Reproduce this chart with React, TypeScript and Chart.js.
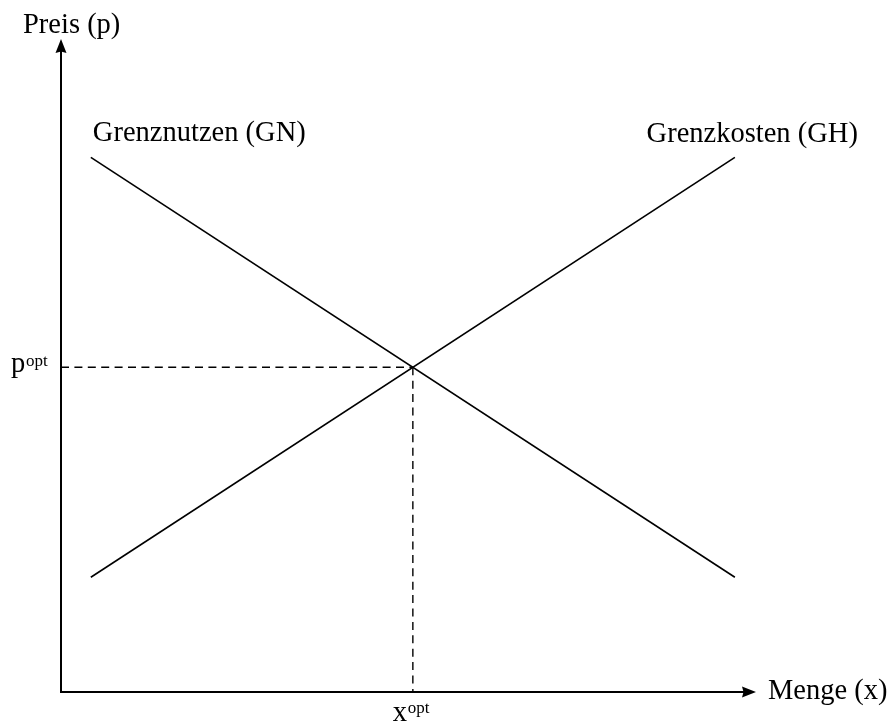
import React, { useEffect, useRef } from "react";
import { Chart, registerables } from "chart.js";

Chart.register(...registerables);

// Data (axis units 0..100 on both axes)
const gnX = [4.3, 97.1];
const gnY = [82.0, 17.6];
const ghX = [4.3, 97.1];
const ghY = [17.6, 82.0];
const optX = 50.7;
const optY = 49.8;
const axisMax = 100;

const labelGN = "Grenznutzen (GN)";
const labelGH = "Grenzkosten (GH)";
const labelY = "Preis (p)";
const labelX = "Menge (x)";

const FONT = "'Liberation Serif', 'Times New Roman', serif";

const overlayPlugin = {
  id: "overlay",
  afterDatasetsDraw(chart: any) {
    const ctx = chart.ctx as CanvasRenderingContext2D;
    const xs = chart.scales.x;
    const ys = chart.scales.y;
    const x0 = xs.getPixelForValue(0);
    const y0 = ys.getPixelForValue(0);
    const xEnd = xs.getPixelForValue(axisMax);
    const yEnd = ys.getPixelForValue(axisMax);
    ctx.save();
    ctx.strokeStyle = "#000";
    ctx.fillStyle = "#000";
    ctx.lineWidth = 2;
    ctx.lineCap = "butt";
    // y axis
    ctx.beginPath();
    ctx.moveTo(x0, y0 + 1);
    ctx.lineTo(x0, yEnd + 8);
    ctx.stroke();
    // x axis
    ctx.beginPath();
    ctx.moveTo(x0 - 1, y0);
    ctx.lineTo(xEnd - 8, y0);
    ctx.stroke();
    // arrowheads
    ctx.beginPath();
    ctx.moveTo(x0, yEnd - 1);
    ctx.lineTo(x0 - 5.5, yEnd + 13);
    ctx.lineTo(x0, yEnd + 11.5);
    ctx.lineTo(x0 + 5.5, yEnd + 13);
    ctx.closePath();
    ctx.fill();
    ctx.beginPath();
    ctx.moveTo(xEnd + 1, y0);
    ctx.lineTo(xEnd - 13, y0 - 5.5);
    ctx.lineTo(xEnd - 11.5, y0);
    ctx.lineTo(xEnd - 13, y0 + 5.5);
    ctx.closePath();
    ctx.fill();

    // labels
    ctx.textAlign = "left";
    ctx.textBaseline = "alphabetic";
    ctx.font = `28.5px ${FONT}`;
    ctx.fillText(labelY, x0 - 38, yEnd - 7);
    ctx.fillText(labelX, xEnd + 13, y0 + 7);
    const gnPx = xs.getPixelForValue(gnX[0]);
    const gnPy = ys.getPixelForValue(gnY[0]);
    ctx.fillText(labelGN, gnPx + 2, gnPy - 16);
    const ghPx = xs.getPixelForValue(ghX[1]);
    const ghPy = ys.getPixelForValue(ghY[1]);
    ctx.textAlign = "right";
    ctx.fillText(labelGH, ghPx + 123, ghPy - 15);
    ctx.textAlign = "left";

    // p^opt
    const oy = ys.getPixelForValue(optY);
    const ox = xs.getPixelForValue(optX);
    ctx.font = `28.5px ${FONT}`;
    ctx.fillText("p", x0 - 50, oy + 5);
    ctx.font = `17px ${FONT}`;
    ctx.fillText("opt", x0 - 35, oy - 1);
    // x^opt
    ctx.font = `28.5px ${FONT}`;
    ctx.fillText("x", ox - 20, y0 + 29);
    ctx.font = `17px ${FONT}`;
    ctx.fillText("opt", ox - 5, y0 + 21);
    ctx.restore();
  },
};

export default function App() {
  const ref = useRef<HTMLCanvasElement | null>(null);
  useEffect(() => {
    if (!ref.current) return;
    const chart = new Chart(ref.current, {
      type: "scatter",
      data: {
        datasets: [
          {
            label: labelGN,
            data: gnX.map((x, i) => ({ x, y: gnY[i] })),
            showLine: true,
            borderColor: "#000",
            borderWidth: 1.6,
            pointRadius: 0,
            clip: false,
          } as any,
          {
            label: labelGH,
            data: ghX.map((x, i) => ({ x, y: ghY[i] })),
            showLine: true,
            borderColor: "#000",
            borderWidth: 1.6,
            pointRadius: 0,
            clip: false,
          } as any,
          {
            label: "p opt",
            data: [
              { x: 0, y: optY },
              { x: optX, y: optY },
            ],
            showLine: true,
            borderColor: "#000",
            borderWidth: 1.4,
            borderDash: [8, 5.4],
            pointRadius: 0,
            clip: false,
          } as any,
          {
            label: "x opt",
            data: [
              { x: optX, y: optY },
              { x: optX, y: 0 },
            ],
            showLine: true,
            borderColor: "#000",
            borderWidth: 1.4,
            borderDash: [8, 5.4],
            pointRadius: 0,
            clip: false,
          } as any,
        ],
      },
      options: {
        animation: false,
        responsive: false,
        events: [],
        layout: { padding: { left: 61, right: 137, top: 40, bottom: 31 } },
        plugins: { legend: { display: false }, tooltip: { enabled: false } },
        scales: {
          x: { type: "linear", min: 0, max: axisMax, display: false },
          y: { type: "linear", min: 0, max: axisMax, display: false },
        },
      },
      plugins: [overlayPlugin],
    });
    return () => chart.destroy();
  }, []);
  return (
    <div style={{ position: "absolute", left: 0, top: 0, width: 892, height: 723, background: "#fff" }}>
      <canvas ref={ref} width={892} height={723} style={{ display: "block" }} />
    </div>
  );
}
